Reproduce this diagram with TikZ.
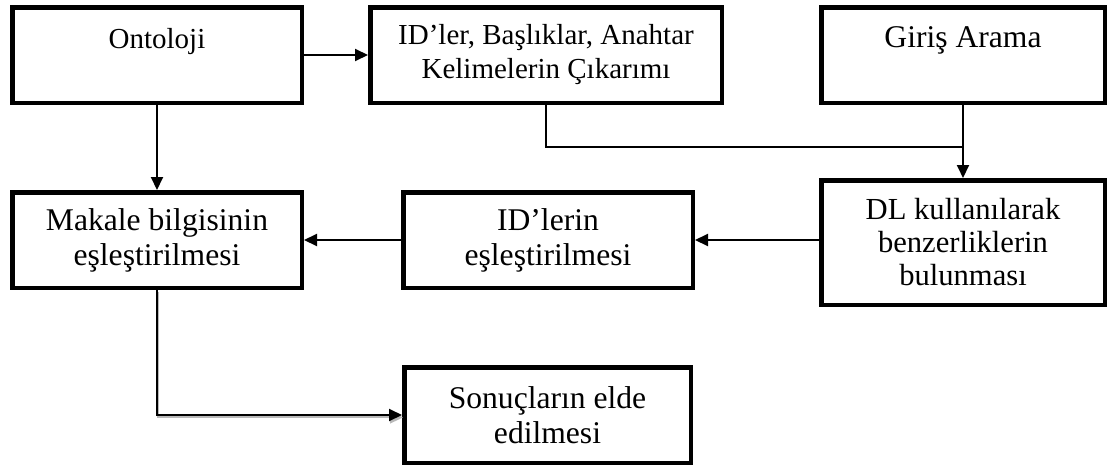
\documentclass[tikz,border=0pt]{standalone}
\usepackage{fontspec}
\setmainfont{Liberation Serif}
\usetikzlibrary{arrows.meta}

\begin{document}
\begin{tikzpicture}[x=0.5pt,y=-0.5pt,
    kutu/.style={draw,line width=2.25pt,fill=white,align=center,inner sep=2pt,
        minimum width=144.75pt,minimum height=47.75pt,
        font=\fontsize{15.8}{17.5}\selectfont},
    kucuk/.style={font=\fontsize{14.5}{17}\selectfont},
    ok/.style={line width=1pt,-{Triangle[length=6.5pt,width=6pt]}}]
    \useasboundingbox (0,0) rectangle (1109,471);
    % ust sira
    \node[kutu,kucuk] (onto) at (157,55) {Ontoloji\\\mbox{}};
    \node[kutu,kucuk,minimum width=175.75pt] (ids) at (546,55) {ID’ler, Başlıklar, Anahtar\\Kelimelerin Çıkarımı};
    \node[kutu,minimum width=141.75pt] (giris) at (963,55) {Giriş Arama\\\mbox{}};
    % orta sira
    \node[kutu] (makale) at (157,240) {Makale bilgisinin\\eşleştirilmesi};
    \node[kutu] (idlerin) at (548,240) {ID’lerin\\eşleştirilmesi};
    \node[kutu,minimum width=141.75pt,minimum height=62.25pt,
        font=\fontsize{15.3}{16.5}\selectfont] (dl) at (963,242.5) {DL kullanılarak\\benzerliklerin\\bulunması};
    % alt
    \node[kutu,minimum width=143.25pt] (sonuc) at (547.5,415) {Sonuçların elde\\edilmesi};
    \coordinate (birles) at (963,147);

    \draw[ok] (onto) -- (ids);
    \draw[ok] (onto) -- (makale);
    \draw[line width=1pt] (ids.south) |- (birles);
    \draw[ok] (giris) -- (dl);
    \draw[ok] (dl.west |- idlerin.east) -- (idlerin.east);
    \draw[ok] (idlerin) -- (makale);
    \draw[ok,draw=gray!55,transform canvas={xshift=0.5pt,yshift=-1.2pt}] (makale.south) |- (sonuc.west);
    \draw[ok] (makale.south) |- (sonuc.west);
\end{tikzpicture}
\end{document}
